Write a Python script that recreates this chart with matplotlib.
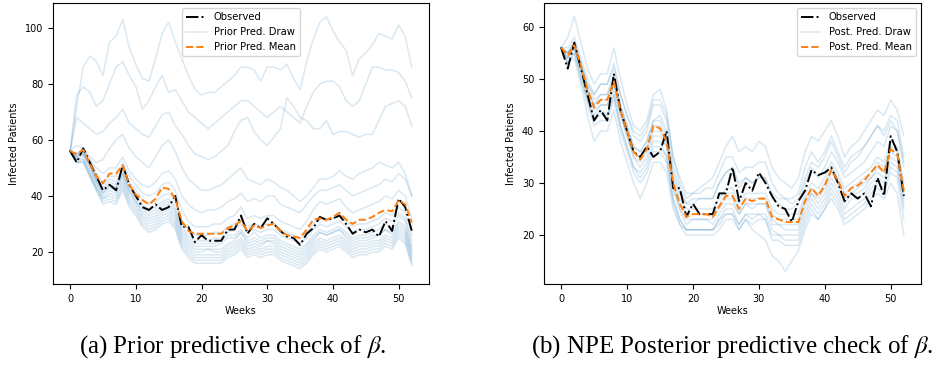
import numpy as np
import matplotlib
matplotlib.use("Agg")
import matplotlib.pyplot as plt

# ---------------- data ----------------
observed = [56, 52, 57, 52, 47, 42, 44, 42, 51, 44,
            40, 36, 35, 37, 35, 36, 40, 29, 29, 23.5,
            26, 24, 24, 24, 28, 28, 33, 26.5, 30, 28.5,
            32, 30, 27.5, 25.5, 25, 22.5, 26.5, 28.5, 32.5, 31.5,
            32, 33, 30, 26.5, 28, 27, 28, 25.5, 31, 27.5,
            39, 36, 27.5]

prior_mean = [56, 55, 56.5, 51.5, 47, 44.5, 48, 48, 51, 44,
              40.5, 38.5, 37, 39, 43, 42.5, 39, 31, 27.5, 26.5,
              26.5, 26.5, 26.5, 26.5, 28.5, 29.5, 31, 27.5, 29.5, 28.5,
              29.5, 30, 27.5, 26, 25.5, 25, 28, 31.5, 32, 31.5,
              32.5, 34, 31.5, 30, 31.5, 31.5, 32.5, 34, 35, 34.5,
              38.5, 37, 30.5]

post_mean = [56, 54.5, 56.5, 52.5, 48, 44.5, 46, 46, 49.5, 44,
             40, 36, 34.5, 36.5, 41, 40.5, 38, 30, 26, 23.5,
             24, 24, 24, 23.5, 25.5, 27.5, 27.5, 25, 27, 26.5,
             27, 27, 23.5, 23, 22.5, 22.5, 22.5, 26.5, 29, 27.5,
             29.5, 32.5, 30.5, 27.5, 29, 29.5, 30.5, 32, 33.5, 32,
             36.5, 35.5, 28.5]

# prior predictive draws
prior_draws = [
    [56, 72, 86, 90, 88, 83, 95, 97, 103, 93, 87, 82, 81, 89, 98, 102, 95, 89, 83, 78,
     76, 77, 77, 79, 81, 83, 86, 86, 85, 81, 86, 86, 85, 87, 82, 78, 88, 96, 102, 104,
     99, 95, 92, 83, 89, 91, 94, 98, 97, 96, 101, 97, 86],
    [56, 76, 79, 77, 72, 74, 80, 86, 88, 83, 79, 71, 74, 79, 83, 77, 78, 74, 70, 68,
     66, 64, 66, 68, 70, 72, 74, 74, 72, 70, 68, 70, 72, 70, 68, 66, 72, 77, 80, 81,
     81, 79, 74, 72, 74, 80, 86, 86, 85, 85, 84, 81, 75],
    [56, 68, 66, 64, 62, 63, 66, 68, 71, 66, 64, 62, 61, 65, 69, 70, 65, 62, 58, 55,
     54, 53, 54, 56, 58, 63, 67, 68, 63, 60, 58, 61, 64, 75, 72, 68, 67, 64, 64, 67,
     62, 63, 63, 62, 61, 62, 62, 67, 72, 73, 74, 72, 65],
    [56, 58, 57, 54, 52, 53, 57, 60, 62, 57, 54, 52, 50, 54, 58, 60, 56, 50, 46, 44,
     42, 42, 43, 44, 46, 48, 50, 46, 45, 44, 46, 45, 43, 42, 40, 38, 40, 43, 46, 46,
     47, 49, 47, 46, 48, 49, 50, 52, 51, 50, 52, 48, 40],
    [56, 55, 57, 53, 50, 48, 50, 50, 54, 49, 46, 44, 43, 45, 48, 49, 46, 40, 37, 35,
     34, 35, 35, 36, 38, 39, 41, 38, 39, 38, 40, 40, 37, 36, 35, 34, 37, 40, 42, 42,
     43, 44, 42, 40, 41, 42, 43, 44, 46, 45, 48, 46, 40],
    [56, 55, 56, 52, 48, 45, 47, 47, 52, 47, 44, 41, 40, 41, 44, 45, 42, 35, 31, 29,
     29, 29, 30, 30, 32, 33, 36, 32, 33, 32, 33, 33, 31, 30, 29, 28, 31, 35, 38, 37,
     38, 39, 36, 34, 35, 36, 37, 38, 40, 39, 42, 40, 32],
    [56, 54, 55, 51, 46, 43, 45, 44, 49, 43, 40, 37, 35, 36, 38, 39, 36, 29, 26, 24,
     24, 24, 25, 25, 27, 28, 30, 27, 28, 27, 28, 28, 26, 25, 24, 23, 25, 28, 30, 29,
     30, 31, 29, 27, 28, 28, 29, 30, 32, 31, 34, 32, 24],
    [56, 53, 55, 50, 45, 41, 43, 42, 47, 41, 38, 35, 33, 34, 36, 37, 34, 27, 24, 22,
     22, 22, 22, 23, 25, 25, 27, 24, 25, 24, 25, 25, 23, 22, 21, 20, 22, 25, 27, 26,
     27, 28, 26, 24, 25, 25, 26, 26, 28, 27, 31, 29, 21],
    [56, 53, 54, 49, 44, 40, 42, 41, 46, 40, 37, 33, 31, 32, 34, 35, 32, 25, 22, 20,
     20, 21, 20, 20, 22, 23, 25, 22, 23, 22, 24, 23, 21, 20, 19, 18, 20, 23, 25, 24,
     25, 26, 24, 22, 23, 23, 24, 24, 26, 25, 29, 27, 19],
    [56, 52, 53, 48, 43, 39, 40, 39, 44, 38, 35, 31, 29, 30, 32, 33, 30, 23, 20, 18,
     18, 18, 18, 18, 20, 21, 23, 20, 21, 20, 21, 21, 19, 18, 17, 16, 18, 21, 23, 22,
     23, 24, 22, 20, 21, 21, 22, 22, 24, 23, 27, 25, 17],
    [56, 52, 52, 47, 42, 37, 38, 37, 42, 36, 33, 29, 27, 28, 30, 31, 28, 21, 18, 16,
     16, 16, 16, 16, 18, 19, 21, 18, 19, 18, 19, 19, 17, 16, 15, 14, 16, 19, 21, 20,
     21, 22, 20, 18, 19, 19, 20, 20, 22, 21, 25, 23, 15],
    [56, 54, 56, 51, 45, 41, 44, 43, 48, 42, 38, 34, 32, 33, 35, 36, 33, 26, 23, 21,
     21, 21, 21, 21, 23, 24, 27, 23, 24, 23, 24, 24, 22, 21, 20, 19, 21, 24, 27, 26,
     27, 28, 25, 23, 24, 24, 25, 26, 28, 26, 30, 28, 20],
    [56, 53, 53, 48, 43, 39, 41, 40, 45, 39, 36, 32, 30, 31, 33, 34, 31, 24, 21, 19,
     19, 19, 19, 19, 21, 22, 24, 21, 22, 21, 22, 22, 20, 19, 18, 17, 19, 22, 24, 23,
     24, 25, 23, 21, 22, 22, 23, 23, 25, 24, 28, 26, 18],
    [56, 52, 52, 47, 42, 38, 39, 38, 43, 37, 34, 30, 28, 29, 31, 32, 29, 22, 19, 17,
     17, 17, 17, 17, 19, 20, 22, 19, 20, 19, 20, 20, 18, 17, 16, 15, 17, 20, 22, 21,
     22, 23, 21, 19, 20, 20, 21, 21, 23, 22, 26, 24, 16],
    [56, 54, 55, 51, 46, 42, 44, 43, 48, 42, 39, 36, 34, 35, 37, 38, 35, 28, 25, 23,
     23, 23, 23, 24, 26, 26, 28, 25, 27, 25, 26, 26, 24, 23, 22, 21, 23, 26, 28, 27,
     28, 29, 27, 25, 26, 26, 27, 28, 30, 29, 33, 31, 22],
    [56, 55, 56, 52, 47, 44, 46, 45, 50, 45, 42, 39, 37, 38, 40, 41, 38, 31, 28, 26,
     26, 26, 27, 27, 29, 30, 32, 29, 30, 29, 30, 30, 28, 27, 26, 25, 27, 30, 32, 31,
     32, 33, 31, 29, 30, 30, 31, 32, 34, 33, 36, 34, 26],
]

# posterior predictive draws
post_draws = [
    [56, 58, 62, 57, 52, 49, 51, 51, 56, 50, 45, 41, 40, 42, 47, 48, 44, 35, 31, 28,
     28, 29, 30, 31, 34, 37, 39, 36, 37, 36, 38, 37, 33, 31, 30, 29, 31, 36, 39, 38,
     40, 42, 39, 35, 37, 38, 40, 42, 44, 43, 46, 44, 39],
    [56, 54, 56, 52, 47, 43, 45, 45, 48, 43, 39, 35, 33, 35, 39, 39, 37, 29, 25, 22,
     23, 23, 23, 22, 24, 26, 26, 24, 26, 25, 26, 26, 22, 22, 21, 21, 21, 25, 28, 26,
     28, 31, 29, 26, 28, 28, 29, 31, 32, 31, 35, 34, 27],
    [56, 55, 57, 53, 49, 46, 47, 47, 51, 45, 41, 37, 36, 38, 42, 42, 39, 31, 27, 25,
     25, 25, 25, 25, 27, 29, 29, 26, 28, 28, 28, 28, 25, 24, 24, 24, 24, 28, 30, 29,
     31, 34, 32, 29, 30, 31, 32, 33, 35, 34, 38, 37, 30],
    [56, 53, 55, 50, 45, 41, 42, 42, 46, 40, 36, 32, 30, 32, 36, 36, 34, 26, 22, 20,
     20, 20, 20, 20, 21, 23, 23, 21, 23, 22, 23, 23, 19, 19, 18, 18, 18, 22, 25, 23,
     25, 28, 26, 23, 24, 25, 26, 28, 29, 28, 32, 31, 23],
    [56, 54, 56, 51, 46, 42, 44, 43, 47, 41, 37, 33, 31, 33, 37, 37, 35, 27, 23, 21,
     21, 21, 21, 21, 22, 24, 24, 21, 23, 21, 20, 19, 16, 15, 13, 15, 17, 21, 24, 23,
     25, 27, 25, 22, 23, 24, 25, 27, 28, 27, 30, 28, 20],
    [56, 56, 58, 54, 50, 47, 49, 49, 53, 47, 43, 39, 38, 40, 45, 45, 42, 33, 29, 26,
     27, 27, 27, 27, 30, 32, 33, 29, 31, 30, 31, 31, 27, 26, 25, 25, 26, 30, 33, 31,
     33, 36, 34, 31, 32, 33, 34, 36, 38, 37, 41, 40, 33],
    [56, 53, 54, 49, 43, 38, 40, 40, 44, 38, 34, 30, 27, 30, 34, 34, 32, 25, 22, 21,
     21, 21, 21, 21, 23, 25, 25, 22, 24, 24, 24, 24, 21, 20, 20, 20, 20, 24, 27, 25,
     27, 30, 28, 25, 27, 27, 28, 30, 31, 30, 34, 33, 26],
    [56, 55, 56, 52, 48, 45, 46, 46, 50, 44, 40, 36, 35, 37, 41, 41, 38, 30, 26, 24,
     24, 24, 24, 24, 26, 28, 28, 25, 27, 27, 27, 27, 24, 23, 23, 23, 23, 27, 29, 28,
     30, 33, 31, 28, 29, 30, 31, 32, 34, 33, 37, 36, 29],
    [56, 55, 57, 53, 49, 47, 49, 49, 52, 47, 43, 40, 39, 41, 46, 46, 43, 35, 30, 27,
     28, 28, 29, 29, 32, 35, 35, 32, 33, 33, 34, 34, 30, 28, 27, 27, 28, 33, 36, 34,
     36, 39, 36, 33, 35, 36, 37, 39, 41, 40, 43, 42, 35],
    [56, 53, 55, 50, 46, 42, 43, 43, 47, 41, 37, 33, 32, 34, 38, 38, 35, 27, 23, 21,
     21, 21, 21, 21, 23, 24, 24, 22, 24, 23, 24, 23, 20, 20, 19, 19, 19, 23, 26, 24,
     26, 29, 27, 24, 25, 26, 27, 29, 30, 29, 33, 32, 25],
    [56, 54, 56, 52, 47, 44, 45, 45, 49, 43, 39, 35, 34, 36, 40, 40, 37, 29, 25, 23,
     23, 23, 23, 23, 25, 27, 27, 24, 26, 26, 26, 26, 23, 22, 22, 22, 22, 26, 28, 27,
     29, 32, 30, 27, 28, 29, 30, 31, 33, 32, 36, 35, 28],
    [56, 55, 57, 53, 48, 45, 47, 47, 50, 45, 41, 37, 36, 38, 42, 43, 40, 32, 28, 26,
     26, 27, 27, 27, 30, 32, 33, 30, 31, 30, 31, 31, 28, 27, 27, 26, 27, 31, 34, 33,
     35, 38, 35, 32, 34, 35, 37, 39, 41, 39, 42, 40, 34],
]

legend_a = ["Observed", "Prior Pred. Draw", "Prior Pred. Mean"]
legend_b = ["Observed", "Post. Pred. Draw", "Post. Pred. Mean"]
captions = [r"(a) Prior predictive check of $\beta$.",
            r"(b) NPE Posterior predictive check of $\beta$."]

plt.rcParams["mathtext.fontset"] = "stix"
plt.rcParams["font.size"] = 7

fig = plt.figure(figsize=(9.42, 3.75), dpi=100)
ax1 = fig.add_axes([0.0563, 0.243, 0.399, 0.749])
ax2 = fig.add_axes([0.5775, 0.243, 0.4002, 0.749])


def panel(ax, draws, mean, labels, loc, ylim):
    for i, d in enumerate(draws):
        ax.plot(np.arange(len(d)), d, color="C0", alpha=0.17, lw=1.1,
                label=labels[1] if i == 0 else None)
    ax.plot(np.arange(len(observed)), observed, color="black", ls="-.", lw=1.4,
            label=labels[0])
    ax.plot(np.arange(len(mean)), mean, color="C1", ls="--", lw=1.4,
            label=labels[2])
    ax.set_xlabel("Weeks", fontsize=7, labelpad=2)
    ax.set_ylabel("Infected Patients", fontsize=7)
    ax.set_xticks([0, 10, 20, 30, 40, 50])
    ax.set_ylim(*ylim)
    ax.tick_params(labelsize=7)
    h, l = ax.get_legend_handles_labels()
    order = [l.index(s) for s in labels]
    ax.legend([h[k] for k in order], [l[k] for k in order], loc=loc, fontsize=7.2)


panel(ax1, prior_draws, prior_mean, legend_a, "upper center", (8.6, 108.9))
panel(ax2, post_draws, post_mean, legend_b, "upper right", (10.6, 64.6))

fig.text(0.247, 0.075, captions[0], ha="center", va="center",
         fontsize=18, family="Liberation Serif")
fig.text(0.777, 0.075, captions[1], ha="center", va="center",
         fontsize=18, family="Liberation Serif")

fig.savefig("out.png", dpi=100)
